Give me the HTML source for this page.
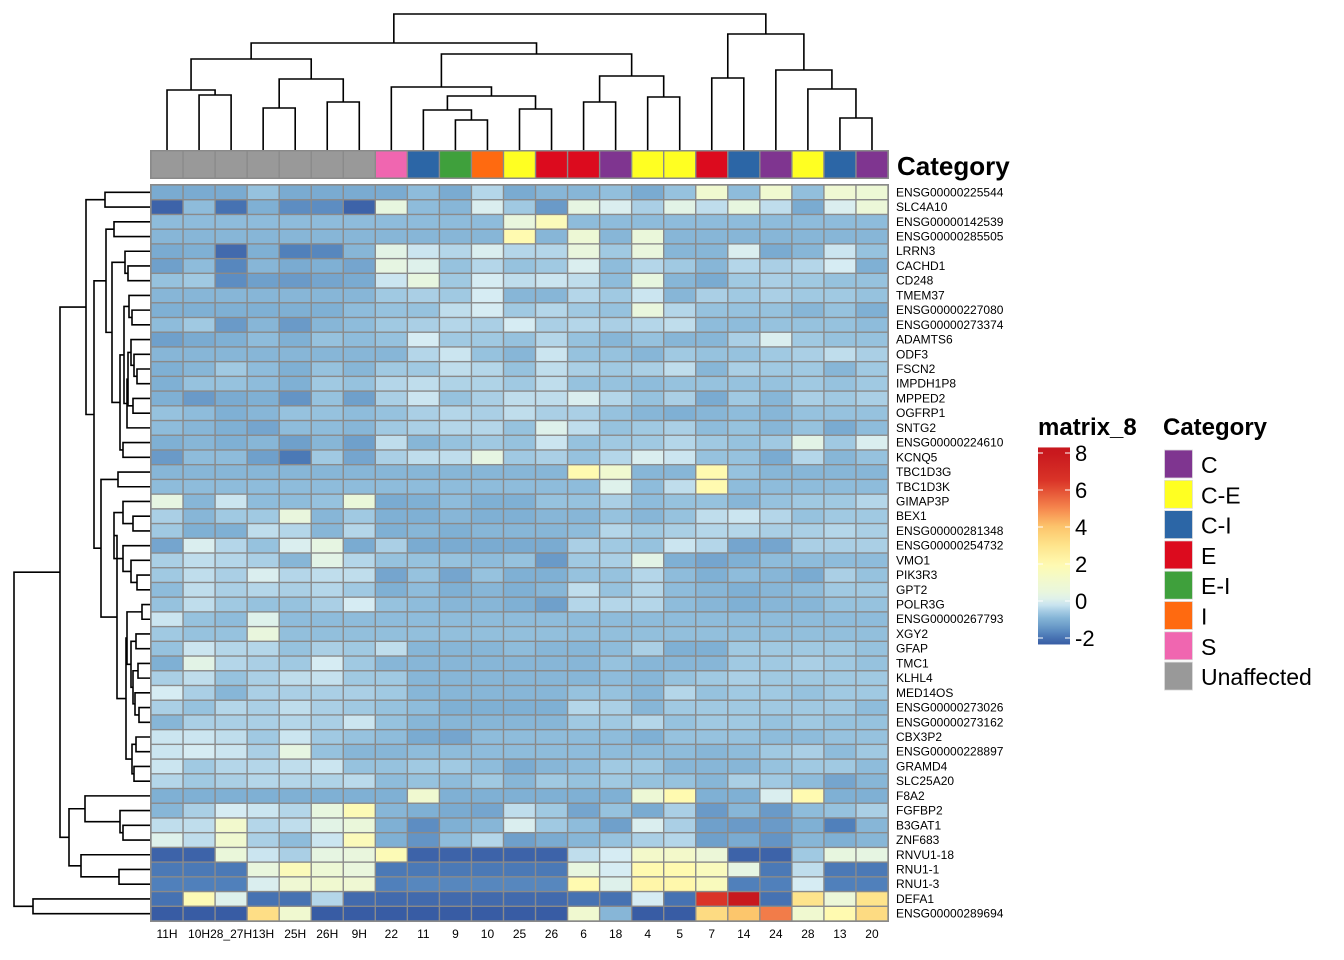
<!DOCTYPE html>
<html><head><meta charset="utf-8"><style>
html,body{margin:0;padding:0;background:#fff;}
svg{display:block;font-family:"Liberation Sans",Arial,sans-serif;}
</style></head><body>
<svg id="chart" width="1344" height="960" viewBox="0 0 1344 960"></svg>
<script>
const colLabels = ["11H","10H","28_27H","13H","25H","26H","9H","22","11","9","10","25","26","6","18","4","5","7","14","24","28","13","20"];
const colCategory = ["Unaffected","Unaffected","Unaffected","Unaffected","Unaffected","Unaffected","Unaffected","S","C-I","E-I","I","C-E","E","E","C","C-E","C-E","E","C-I","C","C-E","C-I","C"];
const categoryNames = ["C","C-E","C-I","E","E-I","I","S","Unaffected"];
const categoryColors = ["#7f3590","#ffff22","#2c66a6","#dc0b1e","#3fa03c","#ff6a10","#f066b0","#999999"];
const rowLabels = ["ENSG00000225544","SLC4A10","ENSG00000142539","ENSG00000285505","LRRN3","CACHD1","CD248","TMEM37","ENSG00000227080","ENSG00000273374","ADAMTS6","ODF3","FSCN2","IMPDH1P8","MPPED2","OGFRP1","SNTG2","ENSG00000224610","KCNQ5","TBC1D3G","TBC1D3K","GIMAP3P","BEX1","ENSG00000281348","ENSG00000254732","VMO1","PIK3R3","GPT2","POLR3G","ENSG00000267793","XGY2","GFAP","TMC1","KLHL4","MED14OS","ENSG00000273026","ENSG00000273162","CBX3P2","ENSG00000228897","GRAMD4","SLC25A20","F8A2","FGFBP2","B3GAT1","ZNF683","RNVU1-18","RNU1-1","RNU1-3","DEFA1","ENSG00000289694"];
const legendTicks = [8,6,4,2,0,-2];
const values = [
[-1.1,-1.1,-1.1,-0.7,-1.1,-1.1,-1.1,-1.1,-0.8,-1.1,-0.4,-1.1,-0.9,-0.9,-0.75,-1.1,-0.7,1,-0.8,1,-0.75,0.9,0.8],
[-2.2,-0.8,-2.0,-1.0,-1.6,-1.6,-2.2,0.4,-0.8,-0.9,0,-0.6,-1.4,0.3,0,-0.5,0.2,-0.3,0.4,-0.3,-1.1,0,0.7],
[-0.8,-0.8,-0.8,-0.8,-0.8,-0.8,-0.8,-0.8,-0.8,-0.8,-0.8,0.5,1.7,-0.8,-0.8,-0.8,-0.8,-0.8,-0.8,-0.8,-0.8,-0.8,-0.8],
[-0.9,-0.9,-0.9,-0.9,-0.9,-0.9,-0.9,-0.9,-0.9,-0.9,-0.9,2.0,-0.9,0.8,-0.9,0.6,-0.9,-0.9,-0.9,-0.9,-0.9,-0.9,-0.9],
[-1.1,-1.0,-2.1,-1.0,-1.8,-1.7,-0.9,0.2,-0.2,-0.4,0,-0.4,-0.4,0.5,-0.6,0.5,-0.9,-0.9,0,-1.1,-0.9,-0.2,-0.7],
[-1.3,-0.8,-1.7,-0.9,-1.1,-1.0,-1.2,0.3,0.1,-0.7,-0.4,-0.7,-0.6,0,-0.8,-0.4,-0.6,-0.9,-0.4,-0.5,-0.4,-0.1,-1.0],
[-0.7,-0.6,-1.6,-1.3,-1.4,-1.2,-1.1,-0.2,0.4,-0.6,-0.1,-0.3,-0.2,-0.3,-0.8,0.4,-0.9,-1.1,-0.6,-0.5,-0.6,-0.7,-0.7],
[-0.9,-0.9,-0.9,-0.9,-0.9,-0.9,-0.9,-0.6,-0.5,-0.6,-0.1,-0.9,-0.9,-0.4,-0.6,-0.2,-0.9,-0.5,-0.6,-0.5,-0.6,-0.6,-0.7],
[-1.0,-1.0,-1.0,-1.0,-1.0,-1.0,-0.8,-0.7,-0.7,-0.3,-0.1,-0.6,-0.4,-0.6,-0.7,0.5,-0.4,-0.7,-0.7,-0.7,-0.9,-0.7,-1.0],
[-0.8,-0.6,-1.4,-0.9,-1.4,-0.9,-0.8,-0.6,-0.5,-0.4,-0.5,-0.1,-0.5,-0.4,-0.5,-0.4,-0.3,-0.8,-0.8,-0.7,-0.7,-0.7,-0.8],
[-1.3,-1.1,-1.0,-0.8,-1.0,-0.7,-0.8,-0.7,-0.1,-0.6,-0.6,-0.7,-0.4,-0.7,-0.9,-0.7,-0.9,-0.9,-0.5,0,-0.6,-0.7,-0.7],
[-0.9,-0.9,-0.9,-0.9,-0.9,-0.9,-0.9,-0.9,-0.4,-0.2,-0.7,-0.9,-0.2,-0.7,-0.7,-0.9,-0.6,-0.7,-0.7,-0.6,-0.5,-0.3,-0.5],
[-1.0,-0.9,-0.6,-0.8,-1.0,-0.7,-0.9,-0.6,-0.6,-0.3,-0.4,-0.7,-0.3,-0.5,-0.6,-0.5,-0.3,-0.9,-0.5,-0.6,-0.6,-0.9,-0.6],
[-1.0,-0.7,-0.7,-0.8,-1.0,-0.6,-0.7,-0.4,-0.3,-0.45,-0.45,-0.6,-0.3,-0.7,-0.7,-0.8,-0.7,-0.7,-0.7,-0.7,-0.6,-0.7,-0.6],
[-1.0,-1.4,-1.1,-1.0,-1.5,-0.7,-1.3,-0.5,-0.2,-0.7,-0.5,-0.3,-0.3,0,-0.4,-0.7,-0.5,-1.1,-0.6,-0.9,-0.5,-0.6,-0.5],
[-0.7,-0.8,-1.0,-0.9,-0.7,-0.7,-0.8,-0.7,-0.5,-0.4,-0.5,-0.3,-0.5,-0.5,-0.7,-0.9,-1.0,-0.9,-0.8,-0.9,-0.7,-0.7,-0.7],
[-0.8,-0.9,-1.0,-1.2,-0.8,-0.8,-0.9,-0.6,-0.5,-0.4,-0.4,-0.7,0.1,-0.3,-0.7,-0.6,-0.5,-0.8,-0.7,-0.9,-0.7,-1.1,-0.8],
[-1.0,-0.9,-1.0,-0.9,-1.3,-0.9,-1.3,-0.3,-0.9,-0.7,-0.6,-0.7,-0.2,-0.7,-0.6,-0.6,-0.4,-0.6,-0.7,-0.6,0.2,-0.6,0],
[-1.4,-0.8,-0.8,-1.3,-1.9,-0.6,-1.2,-0.5,-0.3,-0.3,0.3,-0.6,-0.5,-0.7,-0.4,0,-0.2,-0.7,-0.7,-1.1,-0.4,-0.9,-0.7],
[-0.9,-0.9,-0.9,-0.9,-0.9,-0.9,-0.9,-0.9,-0.9,-0.9,-0.9,-0.9,-0.9,2.0,1.0,-0.9,-0.9,2.0,-0.7,-0.9,-0.9,-0.9,-0.9],
[-0.8,-0.8,-0.8,-0.8,-0.8,-0.8,-0.8,-0.8,-0.8,-0.8,-0.8,-0.8,-0.8,-0.8,0.1,-0.8,-0.3,2.0,-0.8,-0.8,-0.8,-0.8,-0.8],
[0.3,-0.9,-0.2,-0.8,-0.8,-0.7,0.6,-1.1,-1.0,-0.8,-1.0,-1.0,-0.7,-0.7,-0.5,-0.8,-0.7,-0.7,-0.9,-0.7,-0.6,-0.6,-0.4],
[-0.5,-0.9,-0.6,-0.6,0.5,-0.9,-0.6,-1.0,-1.0,-0.9,-1.0,-1.0,-0.9,-0.9,-0.7,-0.9,-0.7,-0.3,-0.2,-0.4,-0.7,-0.6,-0.6],
[-0.6,-1.0,-1.0,-0.3,-0.4,-0.9,-0.4,-1.0,-0.9,-1.0,-0.9,-0.9,-0.9,-0.8,-0.4,-0.6,-0.5,-0.4,-0.4,-0.5,-0.5,-0.4,-0.5],
[-1.2,0,-0.4,-0.7,0,0.3,-1.1,-0.5,-1.1,-1.1,-1.1,-1.1,-1.1,-0.5,-0.6,-0.7,-0.2,-0.4,-1.2,-1.2,-0.5,-0.5,-0.5],
[-0.5,-0.3,-0.4,-0.5,-0.9,0.2,-0.4,-0.7,-0.7,-0.7,-0.8,-0.7,-1.4,-0.6,-0.5,0.2,-1.0,-1.2,-1.0,-0.8,-0.8,-0.8,-0.8],
[-0.6,-0.3,-0.5,0,-0.4,-0.3,-0.3,-1.2,-0.7,-1.2,-0.7,-1.0,-1.0,-0.7,-0.7,-0.4,-0.8,-1.0,-0.8,-0.9,-1.1,-0.5,-0.7],
[-0.8,-0.3,-0.5,-0.4,-0.5,-0.4,-0.6,-1.0,-0.8,-1.0,-0.9,-1.0,-0.9,-0.3,-0.7,-0.4,-0.8,-0.9,-1.0,-0.9,-0.8,-0.6,-0.6],
[-0.7,-0.3,-0.6,-0.7,-0.7,-0.5,-0.1,-0.7,-0.8,-0.9,-0.9,-1.0,-1.3,-0.4,-0.4,-0.4,-0.8,-0.9,-1.0,-0.9,-0.9,-0.7,-0.7],
[-0.2,-0.7,-0.8,0.1,-0.8,-0.8,-0.8,-0.8,-0.8,-0.8,-0.8,-0.8,-0.8,-0.8,-0.8,-0.8,-0.8,-0.8,-0.8,-0.8,-0.8,-0.8,-0.8],
[-0.6,-0.7,-0.7,0.5,-0.75,-0.75,-0.75,-0.75,-0.75,-0.75,-0.75,-0.75,-0.75,-0.75,-0.75,-0.75,-0.75,-0.75,-0.75,-0.75,-0.75,-0.75,-0.75],
[-0.7,-0.2,-0.4,-0.4,-0.7,-0.5,-0.6,-0.3,-0.9,-0.9,-0.9,-0.8,-0.9,-0.9,-0.8,-0.5,-1.0,-1.0,-0.6,-0.6,-0.6,-0.6,-0.7],
[-1.0,0.2,-0.4,-0.5,-0.6,-0.1,-0.6,-0.9,-0.9,-0.9,-0.9,-0.9,-0.9,-0.9,-0.7,-0.9,-0.9,-0.9,-0.6,-0.6,-0.5,-0.6,-0.7],
[-0.5,-0.3,-0.7,-0.5,-0.3,-0.25,-0.6,-0.6,-0.9,-0.9,-0.9,-0.9,-0.9,-0.9,-0.8,-0.9,-0.7,-0.6,-0.5,-0.6,-0.6,-0.6,-0.6],
[-0.1,-0.5,-0.9,-0.5,-0.5,-0.5,-0.5,-0.6,-0.9,-0.9,-0.9,-0.9,-0.9,-0.7,-0.7,-0.9,-0.4,-0.7,-0.6,-0.6,-0.7,-0.6,-0.6],
[-0.5,-0.7,-0.4,-0.5,-0.3,-0.5,-0.6,-0.7,-0.8,-1.0,-1.0,-1.0,-1.0,-0.4,-0.5,-0.9,-0.6,-0.6,-0.6,-0.6,-0.6,-0.6,-0.8],
[-0.9,-0.5,-0.5,-0.5,-0.4,-0.5,-0.2,-0.7,-0.9,-0.9,-0.9,-0.9,-0.9,-0.6,-0.6,-0.4,-0.7,-0.6,-0.6,-0.7,-0.6,-0.7,-0.7],
[-0.2,-0.2,-0.3,-0.6,-0.2,-0.6,-0.7,-0.8,-1.1,-1.2,-0.8,-0.8,-0.8,-0.8,-0.8,-1.0,-0.7,-0.7,-0.7,-0.8,-0.8,-0.7,-0.7],
[-0.2,-0.1,-0.2,-0.5,0.3,-0.7,-0.9,-0.9,-0.8,-0.8,-0.8,-0.8,-0.8,-0.8,-0.8,-0.8,-0.8,-0.9,-0.8,-0.6,-0.5,-0.8,-0.6],
[-0.2,-0.6,-0.4,-0.4,-0.3,-0.2,-0.7,-0.7,-0.6,-0.6,-0.8,-1.1,-0.9,-0.8,-0.6,-0.6,-0.9,-0.9,-0.9,-0.7,-0.6,-0.6,-0.8],
[-0.4,-0.6,-0.5,-0.4,-0.4,-0.45,-0.35,-0.8,-0.7,-0.8,-0.6,-0.9,-0.6,-0.7,-0.6,-0.7,-0.7,-0.9,-0.5,-0.6,-0.8,-1.2,-0.9],
[-1.0,-1.0,-1.0,-1.0,-1.0,-1.0,-1.0,-1.0,1.0,-1.0,-1.0,-1.0,-1.0,-1.0,-1.0,0.8,2.0,-1.0,-1.0,0,2.0,-1.0,-1.0],
[-0.9,-0.5,-0.1,-0.2,-0.4,0.4,1.8,-0.9,-1.0,-1.1,-1.2,-0.3,-0.6,-1.2,-0.7,-1.1,-0.5,-1.4,-0.9,-1.4,-0.8,-0.7,-0.5],
[-0.3,-0.3,1.1,-0.4,-0.3,0.2,0.6,-1.0,-1.6,-1.0,-0.9,0,-0.6,-0.8,-1.3,0,-0.5,-1.3,-1.4,-1.4,-1.0,-1.8,-0.9],
[0.1,-0.3,1.0,-0.5,-0.8,-0.2,1.7,-1.0,-1.5,-0.8,-0.4,-1.3,-1.1,-0.9,-0.7,-0.5,-0.4,-1.3,-1.1,-1.5,-0.9,-1.0,-0.9],
[-2.2,-2.2,0.6,-0.2,-0.5,0.3,0.5,1.8,-2.2,-2.2,-2.2,-2.2,-2.2,-0.3,-0.1,1.2,1.2,0.7,-2.2,-2.2,-0.6,0.4,0.3],
[-1.9,-1.9,-1.9,0.5,1.7,0.8,0.5,-1.9,-1.9,-1.9,-1.9,-1.9,-1.9,0.4,-0.1,2.0,2.0,1.6,0.3,-1.9,-0.3,-1.9,-1.9],
[-1.8,-1.8,-1.8,0,0.9,1.0,0.9,-1.8,-1.7,-1.7,-1.7,-1.7,-1.7,2.0,0.1,2.2,2.1,1.6,-1.8,-1.8,-0.1,-1.8,-1.8],
[-2.0,1.8,0.1,-2.0,-2.0,-0.4,-2.1,-2.1,-2.1,-2.1,-2.1,-2.1,-2.1,-2.0,-2.0,-0.1,-2.0,6.5,8.0,-2.0,3.0,0.7,3.0],
[-2.3,-2.3,-2.3,3.2,1.0,-2.3,-2.3,-2.3,-2.3,-2.3,-2.3,-2.3,-2.3,1.0,-0.9,-2.3,-2.3,3.3,4.0,5.2,1.0,2.0,3.3]
];

function N(a,b,h){return {a:a,b:b,h:h};}
// column dendrogram
const cLeft = N(N(0,N(1,2,95),90), N(N(3,4,108),N(5,6,102),79), 59);
const cMid = N(N(7, N(N(8,N(9,10,120),110), N(11,12,109),96),87), N(N(13,14,102),N(15,16,97),76), 54);
const cRight = N(N(17,18,78), N(19,N(20,N(21,22,118),89),70), 34);
const colTree = N(N(cLeft,cMid,43), cRight, 14);
// row dendrogram
const rA = N(0,1,105);
const rB = N(2,3,114);
const rC = N(4,N(5,6,128),125);
const rF = N(7,N(8,9,132),129);
const rG = N(10,N(11,N(12,13,137),134),131);
const rH = N(N(rG,N(14,15,133),128),16,127);
const rE = N(N(rF,rH,124),N(17,18,123),120);
const rBD = N(rB,N(rC,rE,112),106);
const rL1 = N(21,N(22,23,133),123);
const rL2 = N(24,N(25,N(26,27,137),131),123);
const rM1 = N(N(28,29,142), N(N(30,31,136), N(N(32,33,138), N(34,N(35,36,139),135),133),131),127);
const rM2 = N(N(37,38,136),N(39,40,134),132);
const rL = N(N(rL1,rL2,114), N(rM1,rM2,126), 117);
const rLower = N(N(19,20,118), rL, 101);
const rN86 = N(rA, N(rBD,rLower,94), 86);
const rBot = N(N(41,N(42,N(43,44,123),120),85), N(45,N(46,47,119),81), 69);
const rowTree = N(N(rN86,rBot,60), N(48,49,33), 14);

const NS="http://www.w3.org/2000/svg";
const root=document.getElementById('chart');
function mk(tag,attrs,parent){const e=document.createElementNS(NS,tag);for(const k in attrs)e.setAttribute(k,attrs[k]);(parent||root).appendChild(e);return e;}
const X0=151,X1=888,Y0=185,Y1=921;
const nC=colLabels.length,nR=rowLabels.length;
const cw=(X1-X0)/nC, rh=(Y1-Y0)/nR;
function xScale(i){return X0+i*cw;}
function yScale(i){return Y0+i*rh;}
const stops=[[-2.3,[56,92,164]],[-1.8,[80,128,187]],[-1.4,[106,154,200]],[-1.0,[127,176,212]],[-0.7,[150,194,222]],[-0.4,[180,214,233]],[-0.1,[214,236,243]],[0.3,[230,245,226]],[1,[240,249,208]],[2,[255,250,176]],[3,[254,228,140]],[4,[252,198,108]],[5,[246,135,78]],[6.5,[218,52,40]],[8,[200,24,30]]];
function color(v){
  if(v<=stops[0][0])return 'rgb('+stops[0][1].join(',')+')';
  for(let i=1;i<stops.length;i++){if(v<=stops[i][0]){const a=stops[i-1],b=stops[i];const t=(v-a[0])/(b[0]-a[0]);return 'rgb('+a[1].map((c,k)=>Math.round(c+(b[1][k]-c)*t)).join(',')+')';}}
  return 'rgb('+stops[stops.length-1][1].join(',')+')';
}
// heatmap
const hm=mk('g',{});


mk('rect',{x:X0-1,y:Y0-1,width:X1-X0+2,height:Y1-Y0+2,fill:'#8a8a8a'},hm);
for(let r=0;r<nR;r++){for(let c=0;c<nC;c++){
  const cell=mk('rect',{x:xScale(c)+0.7,y:yScale(r)+0.7,width:cw-1.4,height:rh-1.4,fill:color(values[r][c])},hm);
  
  
}}
// annotation
const an=mk('g',{});


mk('rect',{x:X0-1,y:150,width:X1-X0+2,height:29,fill:'#8a8a8a'},an);
for(let c=0;c<nC;c++){
  const a=mk('rect',{x:xScale(c)+0.7,y:151.5,width:cw-1.4,height:26,fill:categoryColors[categoryNames.indexOf(colCategory[c])]},an);
  
  
}
const ct=mk('text',{x:897,y:175,'font-size':26,'font-weight':'bold',fill:'#000'});
ct.textContent='Category';


// labels
for(let r=0;r<nR;r++){
  const t=mk('text',{x:896,y:yScale(r)+rh/2+4,'font-size':12,fill:'#000'});
  t.textContent=rowLabels[r];
  
  
}
for(let c=0;c<nC;c++){
  const t=mk('text',{x:xScale(c)+cw/2,y:938,'font-size':12,'text-anchor':'middle',fill:'#000'});
  t.textContent=colLabels[c];
  
  
}
// dendrograms
const colDend=mk('g',{stroke:'#000','stroke-width':1.6,fill:'none'});


function drawCol(n){
  if(typeof n==='number')return {x:xScale(n)+cw/2,y:150};
  const a=drawCol(n.a),b=drawCol(n.b),h=n.h;
  mk('path',{d:'M'+a.x+','+a.y+'V'+h+'H'+b.x+'V'+b.y},colDend);
  return {x:(a.x+b.x)/2,y:h};
}
drawCol(colTree);
const rowDend=mk('g',{stroke:'#000','stroke-width':1.6,fill:'none'});


function drawRow(n){
  if(typeof n==='number')return {y:yScale(n)+rh/2,x:150};
  const a=drawRow(n.a),b=drawRow(n.b),h=n.h;
  mk('path',{d:'M'+a.x+','+a.y+'H'+h+'V'+b.y+'H'+b.x},rowDend);
  return {y:(a.y+b.y)/2,x:h};
}
drawRow(rowTree);
// color legend
const lg=mk('g',{});


const lt=mk('text',{x:1038,y:435,'font-size':24,'font-weight':'bold'},lg);
lt.textContent='matrix_8';
function ly(v){return 638-(v+2)*18.5;}
const defs=mk('defs',{});
const grad=mk('linearGradient',{id:'lgrad',x1:0,y1:0,x2:0,y2:1},defs);
const vTop=8.3,vBot=-2.35;
for(let i=0;i<=30;i++){const v=vTop-(vTop-vBot)*i/30;mk('stop',{offset:(i/30),'stop-color':color(v)},grad);}
mk('rect',{x:1038,y:ly(vTop),width:32,height:ly(vBot)-ly(vTop),fill:'url(#lgrad)'},lg);
for(const t of legendTicks){
  mk('line',{x1:1038,x2:1043,y1:ly(t),y2:ly(t),stroke:'#fff','stroke-width':1},lg);
  mk('line',{x1:1065,x2:1070,y1:ly(t),y2:ly(t),stroke:'#fff','stroke-width':1},lg);
  const tx=mk('text',{x:1075,y:ly(t)+8,'font-size':22},lg);
  tx.textContent=String(t);
  
  
}
// category legend
const cg=mk('g',{});


const cgt=mk('text',{x:1163,y:435,'font-size':24,'font-weight':'bold'},cg);
cgt.textContent='Category';
for(let i=0;i<categoryNames.length;i++){
  const y=450+i*30.3;
  const sw=mk('rect',{x:1164.5,y:y,width:28,height:28,fill:categoryColors[i],stroke:'#ddd','stroke-width':0.8},cg);
  
  
  const tx=mk('text',{x:1201,y:y+23,'font-size':23},cg);
  tx.textContent=categoryNames[i];
  
  
}
</script>
</body></html>
